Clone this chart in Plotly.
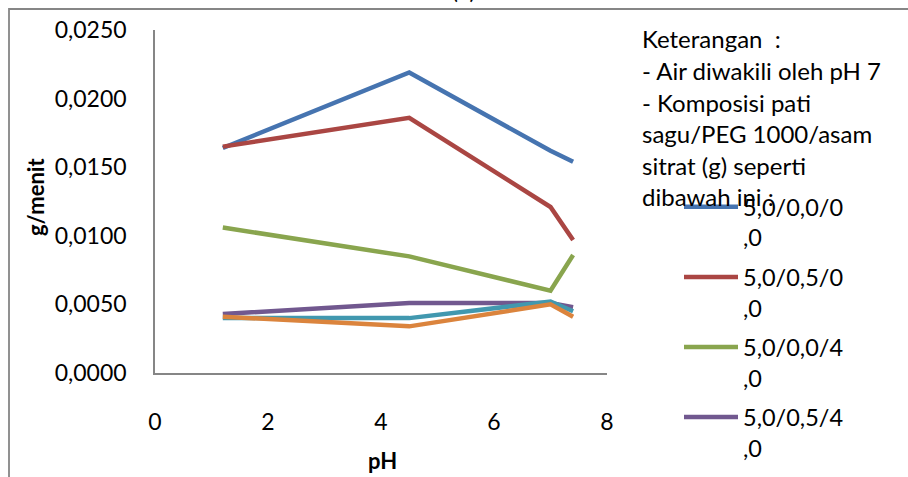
import plotly.graph_objects as go

# ---- data ----
ph = [1.2, 4.5, 7.0, 7.4]
series_names = [
    "5,0/0,0/0<br>,0",
    "5,0/0,5/0<br>,0",
    "5,0/0,0/4<br>,0",
    "5,0/0,5/4<br>,0",
    "5,0/0,0/2<br>,0",
    "5,0/0,5/2<br>,0",
]
s_blue = [0.0164, 0.0219, 0.0162, 0.0154]
s_red = [0.0165, 0.0186, 0.0121, 0.0097]
s_green = [0.0106, 0.0085, 0.0060, 0.0086]
s_purple = [0.0043, 0.0051, 0.0051, 0.0048]
s_teal = [0.0040, 0.0040, 0.0052, 0.0045]
s_orange = [0.0041, 0.0034, 0.0050, 0.0041]
series_values = [s_blue, s_red, s_green, s_purple, s_teal, s_orange]
colors = ["#4674B0", "#AA4643", "#89A54E", "#71588F", "#4198AF", "#DB843D"]

x_ticks = [0, 2, 4, 6, 8]
y_ticks = [0.0, 0.005, 0.010, 0.015, 0.020, 0.025]

note_lines = [
    "Keterangan  :",
    "- Air diwakili oleh pH 7",
    "- Komposisi pati",
    "sagu/PEG 1000/asam",
    "sitrat (g) seperti",
    "dibawah ini :",
]

FONT = "Lato"
W, H = 908, 477
PL, PR, PT, PB = 155, 607, 30, 373  # plot area in pixels


def px_x(px):
    return (px - PL) / (PR - PL)


def px_y(py):
    return (PB - py) / (PB - PT)


fig = go.Figure()
for i, (name, vals, col) in enumerate(zip(series_names, series_values, colors)):
    fig.add_trace(go.Scatter(
        x=ph, y=vals, mode="lines", name=name,
        line=dict(color=col, width=4.5),
        legendgroup=f"g{i}",
    ))

fig.update_layout(
    width=W, height=H,
    margin=dict(l=PL, r=W - PR, t=PT, b=H - PB),
    paper_bgcolor="white", plot_bgcolor="white",
    separators=", ",
    font=dict(family=FONT, size=23, color="#000000"),
    showlegend=True,
    legend=dict(
        xref="container", yref="container",
        x=679 / W, y=1 - 185 / H, xanchor="left", yanchor="top",
        valign="top", itemwidth=54, tracegroupgap=6,
        font=dict(family=FONT, size=23.5, color="#000000"),
        bgcolor="rgba(0,0,0,0)", maxheight=2000,
    ),
)
fig.update_xaxes(
    range=[0, 8], tickvals=x_ticks, ticks="", showgrid=False, zeroline=False,
    showline=True, linecolor="#868686", linewidth=1.5,
    ticklabelstandoff=28, tickfont=dict(family=FONT, size=23),
)
fig.update_yaxes(
    range=[0, 0.025], tickvals=y_ticks, tickformat=".4f", ticks="",
    showgrid=False, zeroline=False,
    showline=True, linecolor="#868686", linewidth=1.5,
    ticklabelstandoff=22, tickfont=dict(family=FONT, size=23),
)

ann = []
# axis titles
ann.append(dict(text="<b>g/menit</b>", xref="paper", yref="paper",
                x=px_x(35), y=px_y(197), showarrow=False, textangle=-90,
                xanchor="center", yanchor="middle", font=dict(size=22)))
ann.append(dict(text="<b>pH</b>", xref="paper", yref="paper",
                x=px_x(382), y=px_y(460), showarrow=False,
                xanchor="center", yanchor="middle", font=dict(size=22)))
# note block
note_y = [38, 70, 102, 133, 165, 196]
for t, yy in zip(note_lines, note_y):
    ann.append(dict(text=t, xref="paper", yref="paper",
                    x=px_x(640), y=px_y(yy), showarrow=False,
                    xanchor="left", yanchor="middle", font=dict(size=24)))
# title cut off at the top
ann.append(dict(text="(b)", xref="paper", yref="paper",
                x=px_x(463), y=px_y(-10), showarrow=False,
                xanchor="center", yanchor="middle", font=dict(size=22)))
fig.update_layout(annotations=ann)

# outer chart frame (extends beyond the right and bottom edges)
fig.add_shape(type="rect", xref="paper", yref="paper",
              x0=px_x(9), x1=2.0, y0=-1.0, y1=px_y(9),
              line=dict(color="#868686", width=1.8), fillcolor="rgba(0,0,0,0)",
              layer="below")

fig.write_html("out.html")
